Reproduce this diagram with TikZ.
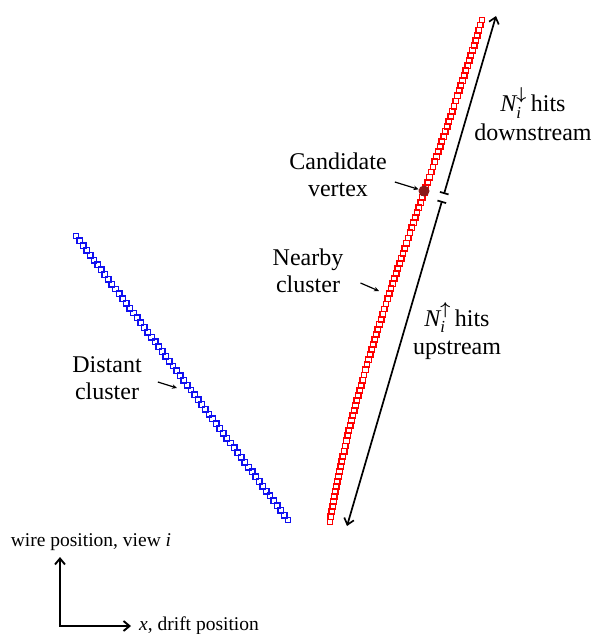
\documentclass[tikz,border=0pt]{standalone}
\usepackage{amsmath}
\usepackage{fontspec}
\setmainfont{Liberation Serif}
\usetikzlibrary{arrows.meta,positioning}
\definecolor{hitred}{HTML}{FF0000}
\definecolor{hitblue}{HTML}{1010F0}
\definecolor{vtxred}{HTML}{8B1A1A}
\tikzset{
  hit/.style      ={rectangle,draw,line width=1.4pt,minimum size=5.5pt,inner sep=0pt},
  redhit/.style   ={hit,draw=hitred},
  bluehit/.style  ={hit,draw=hitblue},
  vertex/.style   ={circle,fill=vtxred,inner sep=0pt,minimum size=11pt},
  lbl/.style      ={align=center,inner sep=1pt,font=\fontsize{24}{26.5}\selectfont},
  axlbl/.style    ={inner sep=1pt,font=\fontsize{19.5}{22}\selectfont},
  pointer/.style  ={-{Stealth[length=5pt,width=4.5pt]},line width=1.2pt},
  span/.style     ={{Bar[width=9pt]}-{Straight Barb[length=6pt,width=10pt]},line width=1.7pt},
  axisarrow/.style={{Straight Barb[length=6pt,width=10pt]}-{Straight Barb[length=6pt,width=10pt]},
                    line width=1.9pt}
}

\begin{document}
\begin{tikzpicture}[x=1pt,y=-1pt]
  \useasboundingbox (0,0) rectangle (593,634);
  % the two clusters of hits
  \foreach \k in {0,...,59}
    \node[bluehit] at ({76+212/59*\k},{236+284/59*\k}) {};
  \foreach \k in {0,...,99}{
    \pgfmathsetmacro\t{\k/99}
    \pgfmathsetmacro\s{1-\t}
    \node[redhit] at ({\s^3*482+3*\s^2*\t*431+3*\s*\t^2*357+\t^3*330},
                      {\s^3*20+3*\s^2*\t*187+3*\s*\t^2*355+\t^3*522}) {};
  }
  \node[vertex] (vtx) at (424,191) {};
  % hits up and down from the vertex
  \coordinate (dtop) at (496,16);
  \coordinate (dbrk) at (444,194);
  \coordinate (ubrk) at (442,201);
  \coordinate (ubot) at (347,526);
  \draw[span] (dbrk) -- (dtop);
  \draw[span] (ubrk) -- (ubot);
  \node[lbl] (down) at (533,114) {$\mathit{N}_{\mathit{i}}^{\boldsymbol{\downarrow}}$\,hits\\[2pt]downstream};
  \node[lbl] (up) at (457,331) {$\mathit{N}_{\mathit{i}}^{\boldsymbol{\uparrow}}$\,hits\\[2pt]upstream};
  % labels
  \node[lbl] (cand) at (338,175) {Candidate\\vertex};
  \node[lbl] (near) at (308,271) {Nearby\\cluster};
  \node[lbl] (dist) at (107,378) {Distant\\cluster};
  \coordinate (nearpt) at (379,291);
  \coordinate (distpt) at (177,388);
  \draw[pointer] ([shift={(7,7)}]cand.east) -- (vtx);
  \draw[pointer] ([shift={(16,12)}]near.east) -- (nearpt);
  \draw[pointer] ([shift={(15,4)}]dist.east) -- (distpt);
  % axes
  \coordinate (ax0) at (60,626);
  \coordinate (axY) at (60,557);
  \coordinate (axX) at (131,626);
  \draw[axisarrow] (axY) -- (ax0) -- (axX);
  \node[axlbl] (wire) at (91,542) {wire position, view \textit{i}};
  \node[axlbl,right=7pt of axX] (drift) {\textit{x}, drift position};
\end{tikzpicture}
\end{document}
